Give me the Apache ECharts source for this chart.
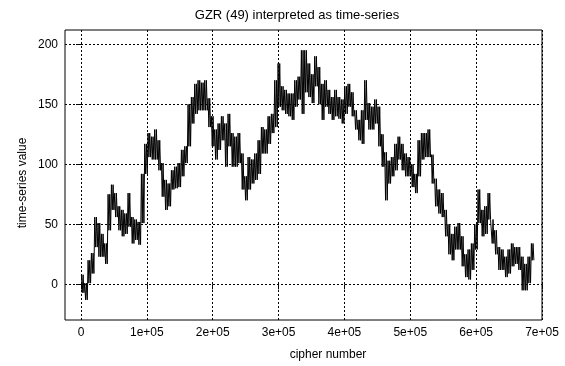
<!DOCTYPE html>
<html>
<head>
<meta charset="utf-8">
<script src="https://cdn.jsdelivr.net/npm/echarts@6/dist/echarts.min.js"></script>
<style>
html,body{margin:0;padding:0;background:#fff;}
#chart{width:565px;height:366px;}
</style>
</head>
<body>
<div id="chart"></div>
<script>
// ---- data (per-bin envelope: high / low values) ----
var binStep = 5061;          // cipher numbers per bin
var binStart = 0;            // first cipher number
var binHigh = [
  8, 1, 20, 26, 56, 51, 42, 34, 75, 83, 76, 65, 62, 59, 76, 56, 54, 52, 92, 117, 126, 123,
  129, 120, 101, 87, 84, 95, 98, 101, 112, 115, 150, 156, 167, 170, 168, 170, 155, 140, 129, 134, 140, 134,
  142, 126, 123, 126, 109, 90, 106, 104, 109, 120, 131, 129, 140, 142, 170, 184, 165, 162, 159, 159, 170, 173, 195,
  195, 184, 175, 190, 181, 167, 170, 162, 156, 162, 156, 154, 165, 167, 160, 145, 137, 145, 170, 151, 148, 154,
  148, 125, 110, 103, 106, 117, 123, 117, 109, 106, 100, 92, 120, 126, 126, 129, 108, 88, 79, 76, 62, 50, 42,
  48, 51, 40, 25, 29, 34, 50, 79, 62, 65, 76, 54, 45, 31, 29, 23, 29, 34, 31, 31, 23, 17, 23, 34
];
var binLow = [
  -7, -13, 1, 9, 31, 23, 23, 17, 45, 62, 56, 45, 40, 42, 48, 34, 37, 33, 51, 92, 106, 104,
  104, 95, 73, 62, 65, 79, 80, 81, 90, 101, 115, 134, 142, 145, 145, 145, 131, 115, 104, 112, 120, 98,
  115, 98, 98, 101, 79, 70, 79, 84, 87, 92, 109, 109, 117, 126, 131, 148, 145, 142, 140, 137, 148, 154, 142,
  160, 156, 151, 165, 150, 137, 148, 142, 137, 140, 138, 134, 142, 148, 140, 129, 120, 117, 137, 129, 129, 134,
  115, 98, 70, 84, 90, 95, 104, 95, 90, 90, 81, 76, 90, 104, 106, 106, 84, 65, 59, 56, 40, 25, 20,
  29, 29, 15, 6, 4, 12, 29, 51, 40, 42, 54, 34, 25, 12, 12, 6, 9, 15, 17, 12, -5, -5, 1, 20
];
var xTickValues = [0, 100000, 200000, 300000, 400000, 500000, 600000, 700000];
var xTickLabels = ['0', '1e+05', '2e+05', '3e+05', '4e+05', '5e+05', '6e+05', '7e+05'];
var yTickValues = [0, 50, 100, 150, 200];
var yTickLabels = ['0', '50', '100', '150', '200'];
var titleText = 'GZR (49) interpreted as time-series';
var xName = 'cipher number';
var yName = 'time-series value';

// ---- build the line: the trace swings between the high and low of each bin ----
var seriesData = [];
var swings = 2;
for (var i = 0; i < binHigh.length; i++) {
  for (var s = 0; s < swings; s++) {
    seriesData.push([binStart + (i + (2 * s + 0.5) / (2 * swings)) * binStep, binHigh[i]]);
    seriesData.push([binStart + (i + (2 * s + 1.5) / (2 * swings)) * binStep, binLow[i]]);
  }
}

var FONT = '"Liberation Sans", Arial, Helvetica, sans-serif';
var chart = echarts.init(document.getElementById('chart'), null, {renderer: 'canvas'});
var gridLine = {show: true, lineStyle: {color: '#000', width: 1, type: [2, 2]}};
chart.setOption({
  animation: false,
  backgroundColor: '#fff',
  grid: {left: 65, right: 23, top: 30, bottom: 46, show: true, borderColor: '#000', borderWidth: 1, backgroundColor: 'transparent'},
  xAxis: {
    type: 'value', min: -24294, max: 700000,
    axisLine: {show: false},
    axisTick: {show: true, inside: false, length: 5, lineStyle: {color: '#000'}, customValues: xTickValues},
    axisLabel: {show: true, margin: 7, color: '#000', fontFamily: FONT, fontSize: 12,
      customValues: xTickValues,
      formatter: function (v) { var k = xTickValues.indexOf(v); return k >= 0 ? xTickLabels[k] : ''; }},
    splitLine: gridLine
  },
  yAxis: {
    type: 'value', min: -29.75, max: 211.9,
    axisLine: {show: false},
    axisTick: {show: true, inside: false, length: 5, lineStyle: {color: '#000'}, customValues: yTickValues},
    axisLabel: {show: true, margin: 7, color: '#000', fontFamily: FONT, fontSize: 12,
      customValues: yTickValues,
      formatter: function (v) { var k = yTickValues.indexOf(v); return k >= 0 ? yTickLabels[k] : ''; }},
    splitLine: gridLine
  },
  graphic: [
    {type: 'text', style: {text: titleText, x: 297, y: 15, textAlign: 'center', textVerticalAlign: 'middle', font: '13px ' + FONT, fill: '#000'}},
    {type: 'text', style: {text: xName, x: 328, y: 355, textAlign: 'center', textVerticalAlign: 'middle', font: '12px ' + FONT, fill: '#000'}},
    {type: 'text', x: 23, y: 183, rotation: Math.PI / 2, style: {text: yName, x: 0, y: 0, textAlign: 'center', textVerticalAlign: 'middle', font: '12px ' + FONT, fill: '#000'}}
  ],
  series: [{
    type: 'line', data: seriesData, showSymbol: false, symbol: 'none', sampling: null,
    lineStyle: {color: '#000', width: 1}, z: 5
  }]
});
</script>
</body>
</html>
